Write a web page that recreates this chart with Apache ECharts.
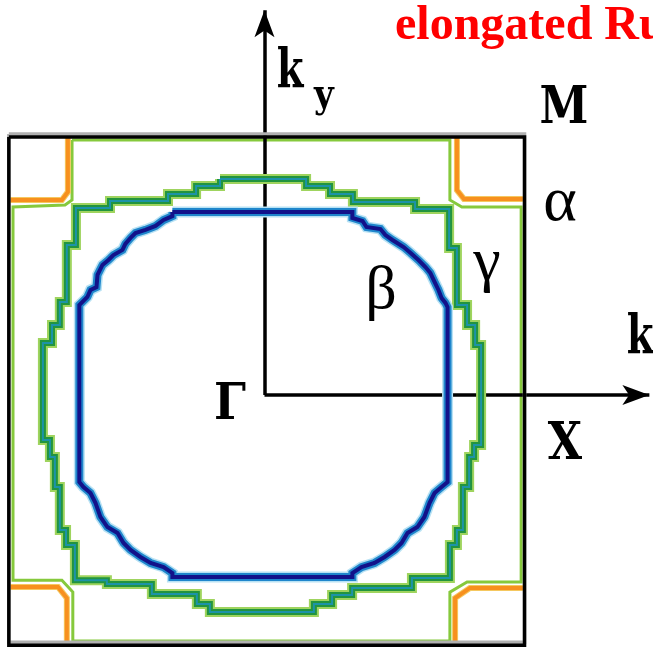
<!DOCTYPE html>
<html>
<head>
<meta charset="utf-8">
<script src="https://cdn.jsdelivr.net/npm/echarts@6/dist/echarts.min.js"></script>
<style>
  html, body { margin: 0; padding: 0; background: #fff; }
  #chart { width: 653px; height: 648px; }
</style>
</head>
<body>
<div id="chart"></div>
<script>
// Fermi-surface cut in the kx-ky plane. Coordinates are in percent of pi/a,
// measured from the zone centre Gamma.

// First Brillouin-zone boundary
const zoneBox = [[-98.3, 99.2], [100, 99.2], [100, -96.2], [-98.3, -96.2], [-98.3, 99.2]];

// alpha hole pockets around the four M corners
const alphaTL = [[-75.6, 99.2], [-75.6, 78.1], [-77.9, 75.0], [-98.3, 75.0]];
const alphaTR = [[74.0, 99.2], [74.0, 78.8], [76.7, 75.4], [100, 75.4]];
const alphaBR = [[100, -74.2], [79.0, -74.2], [73.3, -78.1], [73.3, -96.2]];
const alphaBL = [[-98.3, -73.8], [-79.4, -73.8], [-76.0, -78.1], [-76.0, -96.2]];

// outer sheet running along the zone edge
const outerSheet = [
  [-74.0, 98.1], [71.3, 98.1], [71.3, 75.0], [75.9, 72.3], [98.7, 72.3], [98.7, -71.9],
  [77.9, -71.9], [71.3, -75.8], [71.3, -94.6], [-73.7, -94.6], [-73.7, -75.8], [-77.9, -71.2],
  [-96.7, -71.2], [-96.7, 72.3], [-76.7, 73.1], [-74.0, 75.0], [-74.0, 98.1]
];

// gamma sheet
const gammaSheet = [
  [-17.1, 83.1], [16.0, 83.1], [16.0, 80.4], [25.2, 80.4], [25.2, 77.3], [34.0, 77.3],
  [34.0, 74.2], [57.9, 74.2], [57.9, 71.5], [71.0, 71.5], [71.0, 56.5], [74.0, 56.5],
  [74.0, 34.6], [77.9, 34.6], [77.9, 26.9], [81.0, 26.9], [81.0, 19.2], [83.3, 19.2],
  [83.3, -19.2], [80.6, -19.2], [80.6, -23.8], [78.7, -23.8], [78.7, -35.4], [76.3, -35.4],
  [76.3, -51.9], [74.0, -51.9], [74.0, -57.7], [71.3, -57.7], [71.3, -70.4], [56.7, -70.4],
  [56.7, -74.2], [33.7, -74.2], [33.7, -76.9], [26.0, -76.9], [26.0, -80.4], [19.0, -80.4],
  [19.0, -83.5], [-21.0, -83.5], [-21.0, -80.4], [-26.0, -80.4], [-26.0, -76.5], [-43.3, -76.5],
  [-43.3, -72.7], [-60.6, -72.7], [-60.6, -71.2], [-72.9, -71.2], [-72.9, -57.7], [-76.3, -57.7],
  [-76.3, -51.9], [-78.7, -51.9], [-78.7, -35.4], [-80.6, -35.4], [-80.6, -23.8], [-82.5, -23.8],
  [-82.5, -17.3], [-85.2, -17.3], [-85.2, 20.0], [-81.7, 20.0], [-81.7, 26.9], [-78.7, 26.9],
  [-78.7, 35.8], [-76.0, 35.8], [-76.0, 57.7], [-72.5, 57.7], [-72.5, 71.9], [-59.4, 71.9],
  [-59.4, 74.6], [-37.1, 74.6], [-37.1, 77.3], [-26.3, 77.3], [-26.3, 80.4], [-17.1, 80.4],
  [-17.1, 83.1]
];

// beta sheet
const betaSheet = [
  [-35.4, 70.4], [33.8, 70.4], [33.8, 68.1], [37.7, 66.9], [39.2, 64.6], [44.6, 63.8],
  [46.5, 61.5], [49.2, 59.6], [53.5, 56.9], [56.2, 54.6], [59.2, 51.9], [61.9, 49.2],
  [63.8, 46.9], [65.4, 43.5], [66.9, 40.4], [68.1, 37.3], [69.6, 35.4], [70.4, 33.8],
  [70.4, -33.5], [68.1, -35.4], [65.4, -37.7], [63.5, -41.5], [61.5, -46.9], [58.8, -50.8],
  [55.0, -53.1], [52.7, -56.9], [50.0, -59.6], [46.2, -62.3], [42.3, -64.6], [37.3, -66.2],
  [33.8, -68.5], [33.8, -70.0], [-35.4, -70.0], [-35.4, -68.5], [-38.8, -66.2], [-43.8, -64.6],
  [-47.7, -62.3], [-51.5, -59.6], [-54.2, -56.9], [-56.5, -53.1], [-60.4, -50.8], [-63.1, -46.9],
  [-65.0, -41.5], [-66.9, -37.7], [-69.6, -35.4], [-71.2, -33.5], [-71.2, 34.6], [-68.1, 37.7],
  [-66.9, 40.4], [-64.6, 41.5], [-64.2, 46.2], [-62.3, 50.0], [-60.0, 51.9], [-58.1, 53.8],
  [-54.6, 55.8], [-53.5, 58.1], [-51.5, 60.4], [-49.6, 62.3], [-45.8, 63.5], [-41.9, 65.0],
  [-38.8, 67.3], [-35.4, 68.8], [-35.4, 70.4]
];

// k-axis arrows from Gamma
const kxArrow = [[0, 0], [148, 0]];
const kyArrow = [[0, 0], [0, 148]];

function path(data, color, width, z) {
  return {
    type: 'line', data: data, symbol: 'none', silent: true, z: z,
    lineStyle: { color: color, width: width, join: 'miter', cap: 'butt' }
  };
}

const series = [
  path(outerSheet, '#86c93c', 3, 2),
  path(alphaTL, '#f5c860', 6, 3), path(alphaTR, '#f5c860', 6, 3),
  path(alphaBR, '#f5c860', 6, 3), path(alphaBL, '#f5c860', 6, 3),
  path(alphaTL, '#f7901e', 4, 4), path(alphaTR, '#f7901e', 4, 4),
  path(alphaBR, '#f7901e', 4, 4), path(alphaBL, '#f7901e', 4, 4),
  path(gammaSheet, '#9fd45e', 10, 5),
  path(gammaSheet, '#22943f', 6, 6),
  path(gammaSheet, '#1d93a8', 2, 7),
  path(betaSheet, '#b8e2f4', 11, 8),
  path(betaSheet, '#1f86cc', 8, 9),
  path(betaSheet, '#12128a', 4, 10),
  Object.assign(path(zoneBox, '#000', 3.5, 11), {
    lineStyle: { color: '#000', width: 3.5, join: 'miter', shadowColor: '#b0b0b0', shadowBlur: 0, shadowOffsetY: -3 }
  }),
  {
    type: 'line', data: [], silent: true, z: 20,
    markLine: {
      silent: true, animation: false,
      symbol: ['none', 'arrow'], symbolSize: [15, 27],
      label: { show: false },
      lineStyle: { color: '#000', width: 3.5, type: 'solid' },
      emphasis: { disabled: true },
      data: [
        [{ coord: kxArrow[0] }, { coord: kxArrow[1] }],
        [{ coord: kyArrow[0] }, { coord: kyArrow[1] }]
      ]
    }
  }
];

function label(text, x, y, font, opts) {
  return Object.assign({
    type: 'text', x: x, y: y, z: 100, silent: true,
    style: { text: text, font: font, fill: '#000', align: 'center', verticalAlign: 'middle' }
  }, opts || {});
}

const chart = echarts.init(document.getElementById('chart'), null, { renderer: 'canvas' });
chart.setOption({
  animation: false,
  backgroundColor: '#fff',
  grid: { left: 0, right: 0, top: 0, bottom: 0 },
  xAxis: { type: 'value', min: -101.7, max: 149.4, show: false },
  yAxis: { type: 'value', min: -97.3, max: 151.9, show: false },
  series: series,
  graphic: [
    { type: 'text', x: 395, y: 27, z: 100, silent: true,
      style: { text: 'elongated Ru', font: 'bold 48px "Liberation Serif"', fill: '#ff0000', align: 'left', verticalAlign: 'middle' } },
    label('k', 290, 73, 'bold 55px "DejaVu Serif", "Liberation Serif", serif', { scaleX: 0.7 }),
    label('y', 324, 97, 'bold 40px "DejaVu Serif", "Liberation Serif", serif', { scaleX: 0.85 }),
    label('k', 640, 339, 'bold 55px "DejaVu Serif", "Liberation Serif", serif', { scaleX: 0.7 }),
    label('M', 564, 109, 'bold 52px "DejaVu Serif", "Liberation Serif", serif', { scaleX: 0.85 }),
    label('X', 565, 445, 'bold 52px "DejaVu Serif", "Liberation Serif", serif', { scaleX: 0.85 }),
    label('\u0393', 230, 406, 'bold 50px "DejaVu Serif", "Liberation Serif", serif', { scaleX: 0.9 }),
    label('\u03b1', 560, 203, '64px "Liberation Serif", "DejaVu Serif", serif'),
    label('\u03b2', 381, 292, '62px "Liberation Serif", "DejaVu Serif", serif'),
    label('\u03b3', 487, 264, '62px "Liberation Serif", "DejaVu Serif", serif')
  ]
});
</script>
</body>
</html>
